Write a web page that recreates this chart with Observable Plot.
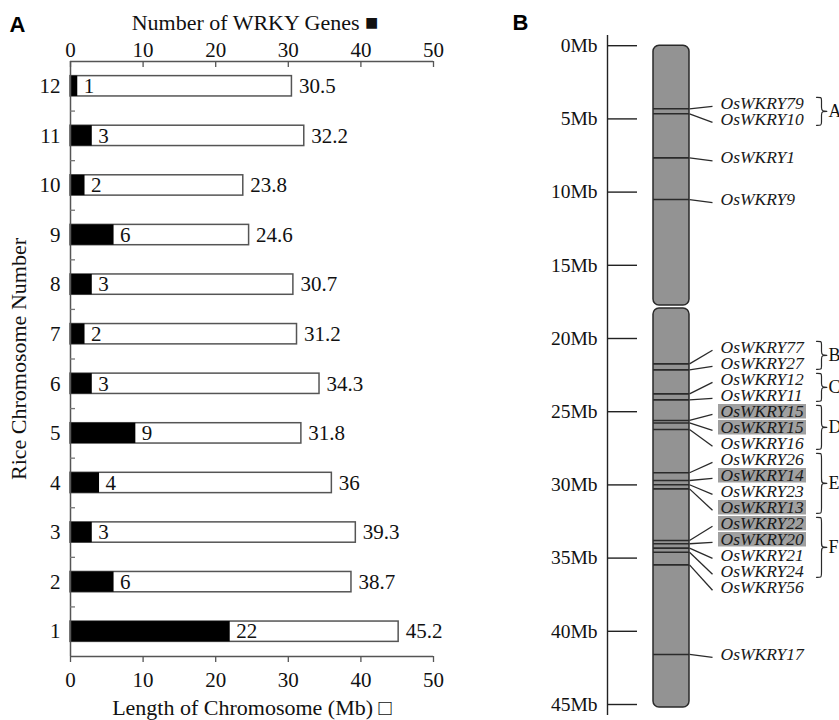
<!DOCTYPE html>
<html>
<head>
<meta charset="utf-8">
<script src="https://cdn.jsdelivr.net/npm/d3@7"></script>
<script src="https://cdn.jsdelivr.net/npm/@observablehq/plot@0.6"></script>
<style>
  html, body { margin: 0; padding: 0; background: #fff; overflow: hidden; }
  #wrap { position: relative; width: 839px; height: 720px; overflow: hidden; }
  #panelA { position: absolute; left: 0; top: 0; }
  #panelB { position: absolute; left: 460px; top: 0; }
</style>
</head>
<body>
<div id="wrap"><div id="panelA"></div><div id="panelB"></div></div>
<script>
// ---------------- DATA ----------------
// Panel A
const chromosomes  = [1, 2, 3, 4, 5, 6, 7, 8, 9, 10, 11, 12];
const geneCounts   = [22, 6, 3, 4, 9, 3, 2, 3, 6, 2, 3, 1];
const chromLengths = [45.2, 38.7, 39.3, 36, 31.8, 34.3, 31.2, 30.7, 24.6, 23.8, 32.2, 30.5];
const xTicks = [0, 10, 20, 30, 40, 50];
const topTitle = "Number of WRKY Genes \u25A0";
const bottomTitle = "Length of Chromosome (Mb) \u25A1";
const yTitle = "Rice Chromosome Number";

// Panel B (rice chromosome 1)
const mbTicks = [0, 5, 10, 15, 20, 25, 30, 35, 40, 45];
const armStartMb = [0, 17.95];
const armEndMb   = [17.75, 45.2];
const geneNames = ["OsWKRY79", "OsWKRY10", "OsWKRY1", "OsWKRY9", "OsWKRY77", "OsWKRY27",
  "OsWKRY12", "OsWKRY11", "OsWKRY15", "OsWKRY15", "OsWKRY16", "OsWKRY26", "OsWKRY14",
  "OsWKRY23", "OsWKRY13", "OsWKRY22", "OsWKRY20", "OsWKRY21", "OsWKRY24", "OsWKRY56", "OsWKRY17"];
const genePositionsMb = [4.31, 4.65, 7.66, 10.51, 21.73, 22.14, 23.78, 24.19, 25.60, 25.77,
  26.22, 29.17, 29.70, 29.99, 30.27, 33.80, 34.02, 34.32, 34.60, 35.46, 41.58];
const geneHighlighted = [false, false, false, false, false, false, false, false, true, true,
  false, false, true, false, true, true, true, false, false, false, false];
const groupNames = ["A", "B", "C", "D", "E", "F"];
const groupFirstGene = [0, 4, 6, 8, 11, 15];
const groupLastGene  = [1, 5, 7, 10, 14, 18];

// ---------------- STYLE / LAYOUT ----------------
const SERIF = "'Liberation Serif', 'Times New Roman', Times, serif";
const SANS = "'Liberation Sans', Arial, sans-serif";
const INK = "#111";
const NUM_FS = 21, TITLE_FS = 22;

// Panel A layout
const A_W = 460, A_H = 720, A_ML = 70, A_MR = 27, A_MT = 61, A_MB = 64;
const A_FW = A_W - A_ML - A_MR, A_FH = A_H - A_MT - A_MB;
const A_PX_PER_UNIT = A_FH / 12;
const BAR_HALF = 0.205;
const TICK_LEN = 6 / A_PX_PER_UNIT;

const rows = chromosomes.map((c, i) => ({chr: c, count: geneCounts[i], length: chromLengths[i]}));
const boundaries = chromosomes.slice(1).map(c => c - 0.5);
const yTop = d3.max(chromosomes) + 0.5, yBottom = d3.min(chromosomes) - 0.5;

const txt = (data, opts) => Plot.text(data, {fontFamily: SERIF, fill: INK, lineAnchor: "middle", ...opts});

const plotA = Plot.plot({
  width: A_W, height: A_H,
  marginLeft: A_ML, marginRight: A_MR, marginTop: A_MT, marginBottom: A_MB,
  x: {domain: [0, 50], axis: null},
  y: {domain: [yBottom, yTop], axis: null},
  style: {background: "transparent", fontFamily: SERIF, fontSize: "20px", color: INK, overflow: "visible"},
  marks: [
    // bars
    Plot.rect(rows, {x1: 0, x2: "length", y1: d => d.chr - BAR_HALF, y2: d => d.chr + BAR_HALF,
      fill: "white", stroke: "#555", strokeWidth: 1.5}),
    Plot.rect(rows, {x1: 0, x2: "count", y1: d => d.chr - BAR_HALF, y2: d => d.chr + BAR_HALF,
      fill: "black"}),
    txt(rows, {x: "count", y: "chr", text: d => String(d.count), dx: 6, textAnchor: "start", fontSize: NUM_FS}),
    txt(rows, {x: "length", y: "chr", text: d => String(d.length), dx: 7, textAnchor: "start", fontSize: NUM_FS}),
    // axis lines
    Plot.ruleY([yTop, yBottom], {y: d => d, stroke: "#555", strokeWidth: 1.5}),
    Plot.ruleX([0], {x: d => d, stroke: "#555", strokeWidth: 1.5}),
    // top ticks (pointing inward) and bottom ticks (outward)
    Plot.ruleX(xTicks, {x: d => d, y1: yTop, y2: yTop - TICK_LEN, stroke: "#555", strokeWidth: 1.3}),
    Plot.ruleX(xTicks, {x: d => d, y1: yBottom, y2: yBottom - TICK_LEN, stroke: "#555", strokeWidth: 1.3}),
    // y ticks between chromosomes
    Plot.ruleY(boundaries, {y: d => d, x1: 0, x2: 5 * 50 / A_FW, stroke: "#777", strokeWidth: 1.3}),
    // tick labels
    txt(xTicks, {x: d => d, y: yTop, dy: -11, text: d => String(d), fontSize: NUM_FS}),
    txt(xTicks, {x: d => d, y: yBottom, dy: 24, text: d => String(d), fontSize: NUM_FS}),
    txt(chromosomes, {y: d => d, x: 0, dx: -10, textAnchor: "end", text: d => String(d), fontSize: NUM_FS}),
    // titles
    txt([topTitle], {x: 25, y: yTop, dy: -39, dx: 3, text: d => d, fontSize: TITLE_FS}),
    txt([bottomTitle], {x: 25, y: yBottom, dy: 51, text: d => d, fontSize: TITLE_FS}),
    txt([yTitle], {x: 0, y: (yTop + yBottom) / 2, dx: -52, rotate: -90, text: d => d, fontSize: TITLE_FS}),
    txt(["A"], {x: 0, y: yTop, dx: -61, dy: -37, textAnchor: "start", text: d => d,
      fontFamily: SANS, fontWeight: "bold", fontSize: 22, fill: "#000"})
  ]
});
document.getElementById("panelA").appendChild(plotA);

// Panel B layout
const B_W = 379, B_H = 720, B_MT = 45.2, B_MB = 16;
const PX_PER_MB = (B_H - B_MT - B_MB) / 45;
const AXIS_X = 607, TICK_X2 = 637, TICK_LABEL_X = 597;
const CHR_X1 = 653, CHR_X2 = 689;
const CONNECT_X2 = 712, LABEL_X = 720;
const HL_X1 = 718, HL_X2 = 806;
const BRACE_X0 = 816, BRACE_X1 = 821, BRACE_X2 = 829, GROUP_LABEL_X = 828;
const LABEL_SPACING_PX = 16;

// label layout: de-overlap labels, each cluster centred on its genes' mean position
const S = LABEL_SPACING_PX / PX_PER_MB;
const order = d3.range(geneNames.length).sort((a, b) => genePositionsMb[a] - genePositionsMb[b]);
let clusters = order.map(i => ({members: [i]}));
const cCenter = c => d3.mean(c.members, i => genePositionsMb[i]);
let changed = true;
while (changed) {
  changed = false;
  for (let k = 1; k < clusters.length; k++) {
    const a = clusters[k - 1], b = clusters[k];
    const aBottom = cCenter(a) + (a.members.length - 1) * S / 2;
    const bTop = cCenter(b) - (b.members.length - 1) * S / 2;
    if (bTop - aBottom < S) {
      a.members.push(...b.members);
      clusters.splice(k, 1);
      changed = true;
      break;
    }
  }
}
const labelPos = new Array(geneNames.length);
for (const c of clusters) {
  const start = cCenter(c) - (c.members.length - 1) * S / 2;
  c.members.forEach((i, j) => { labelPos[i] = start + j * S; });
}

const genes = geneNames.map((name, i) => ({
  name, pos: genePositionsMb[i], labelPos: labelPos[i], highlighted: geneHighlighted[i]
}));
const arms = armStartMb.map((s, i) => ({start: s, end: armEndMb[i]}));

const px = p => p / PX_PER_MB;
const groups = groupNames.map((g, k) => {
  const top = labelPos[groupFirstGene[k]] - px(6);
  const bottom = labelPos[groupLastGene[k]] + px(6);
  return {name: g, top, bottom, mid: (top + bottom) / 2};
});
const bracePoints = groups.flatMap(g => [
  [BRACE_X0, g.top], [BRACE_X1, g.top], [BRACE_X1, g.top + px(2)],
  [BRACE_X1, g.mid - px(3)], [BRACE_X1, g.mid], [BRACE_X2, g.mid], [BRACE_X1, g.mid],
  [BRACE_X1, g.mid + px(3)], [BRACE_X1, g.bottom - px(2)], [BRACE_X1, g.bottom], [BRACE_X0, g.bottom]
].map(([x, y]) => ({group: g.name, x, y})));

const plotB = Plot.plot({
  width: B_W, height: B_H,
  marginLeft: 0, marginRight: 0, marginTop: B_MT, marginBottom: B_MB,
  x: {domain: [460, 460 + B_W], axis: null},
  y: {domain: [0, 45], reverse: true, axis: null},
  style: {background: "transparent", fontFamily: SERIF, fontSize: "19px", color: INK, overflow: "visible"},
  marks: [
    // scale axis
    Plot.ruleX([AXIS_X], {x: d => d, y1: -0.7, y2: 45.75, stroke: "#222", strokeWidth: 1.4}),
    Plot.ruleY(mbTicks, {y: d => d, x1: AXIS_X, x2: TICK_X2, stroke: "#222", strokeWidth: 1.4}),
    txt(mbTicks, {y: d => d, x: TICK_LABEL_X, textAnchor: "end", text: d => `${d}Mb`, fontSize: 19.5}),
    // chromosome arms
    Plot.rect(arms, {x1: CHR_X1, x2: CHR_X2, y1: "start", y2: "end", rx: 6,
      fill: "#939393", stroke: "#2a2a2a", strokeWidth: 1.5}),
    // gene positions
    Plot.ruleY(genes, {y: "pos", x1: CHR_X1, x2: CHR_X2, stroke: "#2a2a2a", strokeWidth: 1.6}),
    Plot.link(genes, {x1: CHR_X2, y1: "pos", x2: CONNECT_X2, y2: d => d.labelPos + px(3),
      stroke: "#2a2a2a", strokeWidth: 1.3}),
    // highlighted labels
    Plot.ruleY(genes.filter(d => d.highlighted), {y: "labelPos", x1: HL_X1, x2: HL_X2,
      stroke: "#a0a0a0", strokeWidth: 14.6}),
    txt(genes, {x: LABEL_X, y: "labelPos", text: "name", textAnchor: "start",
      fontStyle: "italic", fontSize: 17.5, fill: "#1a1a1a"}),
    // group braces
    Plot.line(bracePoints, {x: "x", y: "y", z: "group", curve: "basis", stroke: "#2a2a2a", strokeWidth: 1.2}),
    txt(groups, {x: GROUP_LABEL_X, y: "mid", text: "name", textAnchor: "start", fontSize: 18}),
    txt(["B"], {x: 460, y: 0, dx: 52, dy: -23, textAnchor: "start", text: d => d,
      fontFamily: SANS, fontWeight: "bold", fontSize: 22, fill: "#000"})
  ]
});
document.getElementById("panelB").appendChild(plotB);
</script>
</body>
</html>
